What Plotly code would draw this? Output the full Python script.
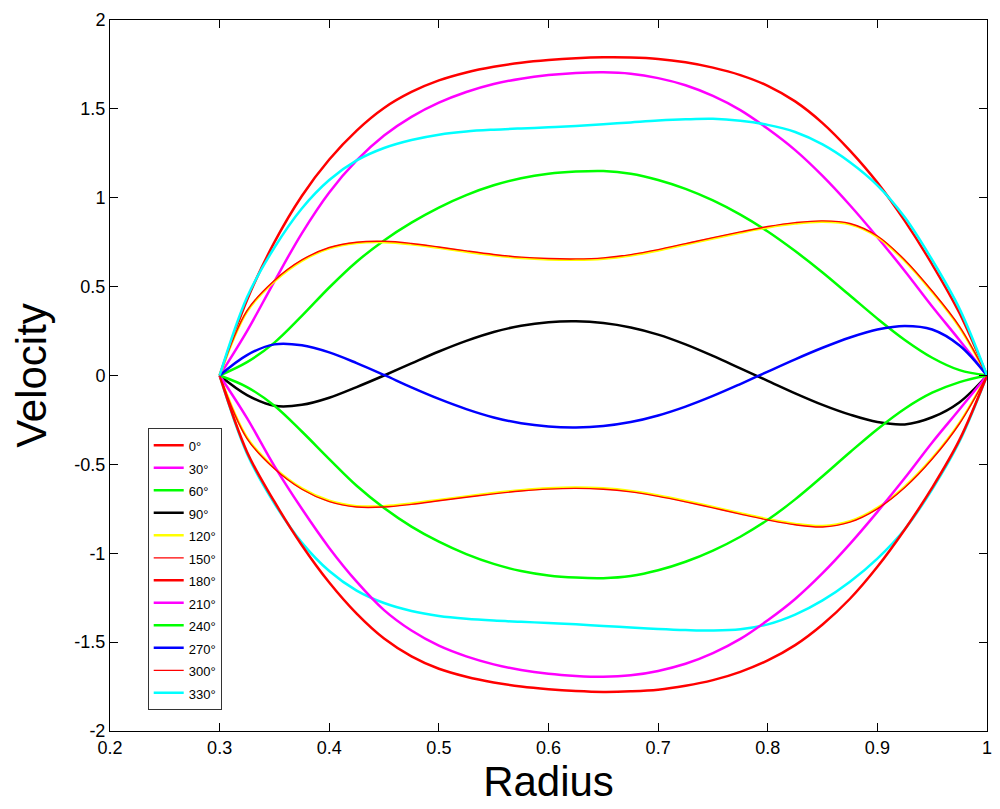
import plotly.graph_objects as go

# Radius grid (x values)
radius = [0.300, 0.325, 0.350, 0.375, 0.400, 0.425, 0.450, 0.475, 0.500, 0.525,
          0.550, 0.575, 0.600, 0.625, 0.650, 0.675, 0.700, 0.725, 0.750, 0.775,
          0.800, 0.825, 0.850, 0.875, 0.900, 0.925, 0.950, 0.975, 1.000]

# Velocity series
v0 = [0, 0.425, 0.75, 1.01, 1.215, 1.378, 1.505, 1.595, 1.66, 1.705,
      1.737, 1.76, 1.775, 1.785, 1.79, 1.789, 1.781, 1.762, 1.732, 1.69,
      1.63, 1.542, 1.42, 1.265, 1.085, 0.87, 0.625, 0.35, 0]
v30 = [0, 0.25, 0.53, 0.80, 1.03, 1.21, 1.35, 1.455, 1.535, 1.595,
       1.64, 1.67, 1.69, 1.702, 1.706, 1.698, 1.673, 1.633, 1.573, 1.493,
       1.388, 1.268, 1.123, 0.958, 0.778, 0.588, 0.388, 0.198, 0]
v60 = [0, 0.075, 0.185, 0.335, 0.495, 0.64, 0.76, 0.86, 0.945, 1.015,
       1.07, 1.11, 1.135, 1.147, 1.15, 1.135, 1.10, 1.05, 0.985, 0.905,
       0.81, 0.70, 0.58, 0.45, 0.32, 0.20, 0.10, 0.03, 0]
v90 = [0, -0.11, -0.17, -0.165, -0.125, -0.065, 0, 0.068, 0.135, 0.195,
       0.245, 0.28, 0.30, 0.305, 0.295, 0.27, 0.23, 0.175, 0.11, 0.04,
       -0.03, -0.10, -0.165, -0.22, -0.262, -0.275, -0.235, -0.15, 0]
v120 = [0, 0.36, 0.53, 0.645, 0.715, 0.745, 0.75, 0.738, 0.718, 0.696,
        0.676, 0.661, 0.653, 0.651, 0.657, 0.675, 0.703, 0.737, 0.771, 0.803,
        0.833, 0.855, 0.865, 0.85, 0.78, 0.645, 0.47, 0.27, 0]
v150 = [0, 0.365, 0.535, 0.65, 0.72, 0.75, 0.755, 0.743, 0.723, 0.701,
        0.681, 0.666, 0.658, 0.656, 0.662, 0.68, 0.708, 0.742, 0.776, 0.808,
        0.838, 0.86, 0.87, 0.855, 0.785, 0.65, 0.475, 0.275, 0]
v180 = [0, -0.43, -0.71, -0.955, -1.165, -1.34, -1.48, -1.58, -1.65, -1.695,
        -1.727, -1.75, -1.765, -1.775, -1.78, -1.777, -1.768, -1.746, -1.714, -1.667,
        -1.603, -1.517, -1.401, -1.256, -1.076, -0.866, -0.631, -0.361, 0]
v210 = [0, -0.24, -0.51, -0.75, -0.97, -1.16, -1.32, -1.435, -1.52, -1.58,
        -1.625, -1.657, -1.678, -1.69, -1.695, -1.687, -1.662, -1.622, -1.562, -1.482,
        -1.377, -1.257, -1.112, -0.947, -0.767, -0.577, -0.377, -0.19, 0]
v240 = [0, -0.065, -0.17, -0.315, -0.47, -0.62, -0.745, -0.85, -0.935, -1.005,
        -1.06, -1.10, -1.125, -1.137, -1.14, -1.128, -1.096, -1.048, -0.985, -0.907,
        -0.812, -0.697, -0.567, -0.432, -0.302, -0.187, -0.097, -0.037, 0]
v270 = [0, 0.115, 0.175, 0.17, 0.13, 0.07, 0.003, -0.067, -0.132, -0.189,
        -0.236, -0.269, -0.287, -0.292, -0.284, -0.262, -0.225, -0.175, -0.115, -0.048,
        0.022, 0.091, 0.156, 0.214, 0.259, 0.279, 0.259, 0.169, 0]
v300 = [0, -0.355, -0.525, -0.64, -0.71, -0.74, -0.74, -0.725, -0.705, -0.685,
        -0.666, -0.65, -0.639, -0.635, -0.64, -0.655, -0.68, -0.711, -0.745, -0.78,
        -0.813, -0.84, -0.852, -0.825, -0.75, -0.63, -0.47, -0.27, 0]
v330 = [0, 0.44, 0.72, 0.94, 1.10, 1.21, 1.28, 1.325, 1.355, 1.373,
        1.383, 1.39, 1.396, 1.404, 1.414, 1.424, 1.434, 1.441, 1.444, 1.433,
        1.41, 1.37, 1.30, 1.20, 1.07, 0.89, 0.65, 0.375, 0]
# extra curves drawn without legend entries
cyan_low = [0, -0.44, -0.72, -0.94, -1.10, -1.21, -1.28, -1.325, -1.353, -1.369,
            -1.379, -1.386, -1.392, -1.40, -1.409, -1.418, -1.426, -1.432, -1.435, -1.428,
            -1.40, -1.345, -1.265, -1.16, -1.03, -0.865, -0.64, -0.37, 0]
yellow_low = [0, -0.35, -0.52, -0.635, -0.705, -0.735, -0.735, -0.72, -0.70, -0.68,
              -0.661, -0.645, -0.634, -0.63, -0.635, -0.65, -0.675, -0.706, -0.74, -0.775,
              -0.808, -0.835, -0.847, -0.82, -0.745, -0.625, -0.465, -0.265, 0]

x_ticks = [0.2, 0.3, 0.4, 0.5, 0.6, 0.7, 0.8, 0.9, 1.0]
x_labels = ["0.2", "0.3", "0.4", "0.5", "0.6", "0.7", "0.8", "0.9", "1"]
y_ticks = [-2, -1.5, -1, -0.5, 0, 0.5, 1, 1.5, 2]
y_labels = ["-2", "-1.5", "-1", "-0.5", "0", "0.5", "1", "1.5", "2"]

series = [
    ("0°", v0, "#ff0000", 2.5),
    ("30°", v30, "#ff00ff", 2.5),
    ("60°", v60, "#00ff00", 2.5),
    ("90°", v90, "#000000", 2.5),
    ("120°", v120, "#ffff00", 2.5),
    ("150°", v150, "#ff0000", 1.4),
    ("180°", v180, "#ff0000", 2.5),
    ("210°", v210, "#ff00ff", 2.5),
    ("240°", v240, "#00ff00", 2.5),
    ("270°", v270, "#0000ff", 2.5),
    ("300°", v300, "#ff0000", 1.4),
    ("330°", v330, "#00ffff", 2.5),
]

fig = go.Figure()

# unlabeled curves drawn first (below)
fig.add_trace(go.Scatter(x=radius, y=yellow_low, mode="lines", showlegend=False,
                         line=dict(color="#ffff00", width=2.5, shape="spline", smoothing=1.0)))
fig.add_trace(go.Scatter(x=radius, y=cyan_low, mode="lines", showlegend=False,
                         line=dict(color="#00ffff", width=2.5, shape="spline", smoothing=1.0)))

for name, ys, col, w in series:
    fig.add_trace(go.Scatter(
        x=radius, y=ys, mode="lines",
        name="<span style='font-size:13px'>" + name + "</span>",
        line=dict(color=col, width=w, shape="spline", smoothing=1.0),
    ))

tick_font = dict(family="Liberation Sans, Arial", size=18, color="#000000")
title_font = dict(family="Liberation Sans, Arial", size=42, color="#000000")

fig.update_layout(
    width=1000, height=809,
    margin=dict(l=110, r=8, t=20, b=78),
    paper_bgcolor="white", plot_bgcolor="white",
    xaxis=dict(range=[0.2, 1.0], tickvals=x_ticks, ticktext=x_labels,
               ticks="inside", ticklen=8, tickcolor="black", showline=True,
               linecolor="black", linewidth=1, mirror="ticks", showgrid=False,
               zeroline=False, tickfont=tick_font,
               title=dict(text="Radius", font=title_font, standoff=10)),
    yaxis=dict(range=[-2, 2], tickvals=y_ticks, ticktext=y_labels,
               ticks="inside", ticklen=8, tickcolor="black", showline=True,
               linecolor="black", linewidth=1, mirror="ticks", showgrid=False,
               zeroline=False, tickfont=tick_font,
               title=dict(text="Velocity", font=title_font, standoff=14)),
    legend=dict(x=0.043, y=0.426, xanchor="left", yanchor="top",
                bgcolor="white", bordercolor="#333333", borderwidth=1,
                font=dict(family="Liberation Sans, Arial", size=15, color="black"),
                tracegroupgap=0, itemwidth=30),
)

fig.write_html("out.html")
